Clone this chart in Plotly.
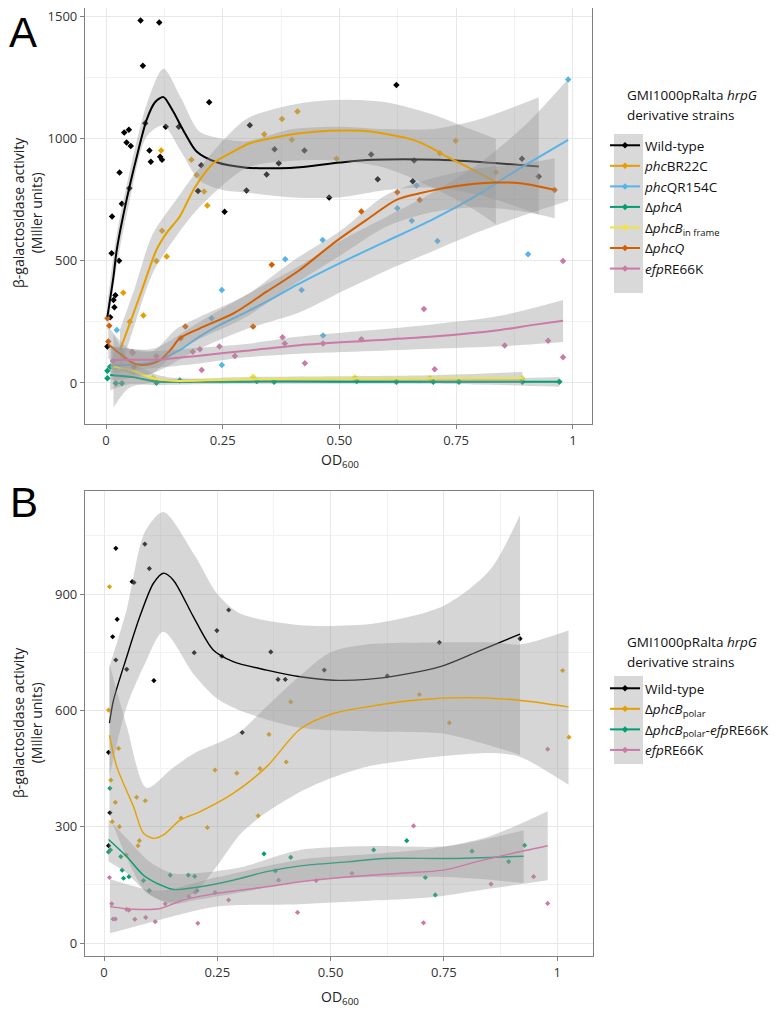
import plotly.graph_objects as go

# ---------------- Panel A data ----------------
a_wt_px = [0.074,0.114,0.079,0.221,0.128,0.156,0.308,0.049,0.039,0.084,0.044,0.053,0.093,0.096,0.116,0.12,0.029,0.05,0.034,0.013,0.254,0.301,0.197,0.204,0.344,0.37,0.361,0.622,0.425,0.568,0.66,0.582,0.657,0.478,0.891,0.927,0.012,0.028,0.02,0.018,0.009,0.003,0.016]
a_wt_py = [1485,1477,1299,1150,1050,1050,1056,1037,1026,1064,985,971,952,906,927,914,862,798,734,682,701,788,786,892,854,900,957,1221,952,936,911,835,826,760,918,846,531,501,359,310,269,149,340]
a_wt_lx = [0.003,0.016,0.023,0.044,0.066,0.087,0.105,0.123,0.14,0.17,0.194,0.237,0.301,0.373,0.415,0.501,0.572,0.715,0.837,0.927]
a_wt_ly = [272,436,545,750,928,1078,1150,1171,1125,1020,948,904,882,880,884,903,914,914,900,887]
a_wt_bx = [0.003,0.023,0.05,0.087,0.123,0.16,0.2,0.25,0.3,0.4,0.5,0.6,0.7,0.8,0.927]
a_wt_lo = [210,480,740,1010,1055,950,830,790,780,760,760,790,800,770,690]
a_wt_hi = [330,610,860,1140,1287,1170,1030,1000,990,1040,1050,1040,1040,1080,1170]

a_bR_px = [0.118,0.183,0.21,0.217,0.12,0.339,0.377,0.41,0.398,0.194,0.494,0.715,0.749,0.835,0.108,0.037,0.08,0.051,0.13]
a_bR_py = [952,914,784,727,624,1019,1081,1112,996,852,919,941,992,863,500,370,276,251,518]
a_bR_lx = [0.03,0.05,0.075,0.108,0.13,0.158,0.19,0.23,0.27,0.308,0.373,0.415,0.48,0.55,0.6,0.658,0.7,0.73,0.772,0.833]
a_bR_ly = [135,239,370,545,615,682,800,900,945,982,1010,1023,1033,1033,1020,996,960,927,887,825]
a_bR_bx = [0.03,0.06,0.1,0.15,0.2,0.3,0.4,0.5,0.6,0.7,0.78,0.835]
a_bR_lo = [50,230,450,600,720,880,910,910,880,800,720,650]
a_bR_hi = [220,380,610,750,880,1080,1140,1160,1150,1100,1040,1000]

a_qR_px = [0.023,0.248,0.384,0.226,0.248,0.419,0.464,0.655,0.71,0.904,0.465,0.99,0.665,0.624]
a_qR_py = [217,381,507,265,74,381,586,665,582,527,194,1243,809,716]
a_qR_lx = [0.01,0.05,0.1,0.158,0.2,0.244,0.3,0.36,0.415,0.5,0.6,0.7,0.8,0.87,0.99]
a_qR_ly = [70,75,85,135,190,238,290,350,408,490,580,670,775,860,996]
a_qR_bx = [0.01,0.1,0.2,0.3,0.415,0.5,0.6,0.7,0.8,0.9,0.99]
a_qR_lo = [10,40,140,220,290,370,460,540,620,690,745]
a_qR_hi = [150,140,250,360,480,580,680,780,900,1060,1245]

a_A_px = [0.003,0.003,0.009,0.021,0.034,0.108,0.158,0.323,0.36,0.537,0.622,0.701,0.756,0.892,0.971]
a_A_py = [50,19,67,-1,-1,1,10,8,5,8,5,5,5,5,5]
a_A_lx = [0.009,0.058,0.108,0.2,0.4,0.6,0.8,0.971]
a_A_ly = [33,24,6,5,6,5,5,5]
a_A_bx = [0.009,0.05,0.1,0.2,0.4,0.6,0.8,0.971]
a_A_lo = [-30,-5,-8,-5,-3,-3,-6,-15]
a_A_hi = [95,50,20,15,15,14,16,25]

a_Bi_px = [0.016,0.315,0.533,0.694,0.892,0.058,0.101]
a_Bi_py = [67,26,22,19,19,45,22]
a_Bi_lx = [0.016,0.058,0.101,0.144,0.3,0.5,0.7,0.892]
a_Bi_ly = [67,50,19,9,15,18,19,20]
a_Bi_bx = [0.016,0.05,0.1,0.15,0.3,0.5,0.7,0.892]
a_Bi_lo = [-100,-20,0,0,5,8,5,0]
a_Bi_hi = [200,100,40,20,25,28,32,45]

a_Q_px = [0.003,0.007,0.355,0.315,0.17,0.16,0.057,0.06,0.547,0.624,0.672,0.961,0.005]
a_Q_py = [265,234,484,231,231,183,124,66,702,781,750,791,170]
a_Q_lx = [0.005,0.03,0.05,0.073,0.1,0.116,0.14,0.158,0.201,0.273,0.344,0.415,0.487,0.558,0.622,0.672,0.744,0.833,0.887,0.961]
a_Q_ly = [159,120,90,74,80,94,140,183,224,285,374,463,572,668,750,777,805,821,818,791]
a_Q_bx = [0.005,0.05,0.1,0.15,0.2,0.3,0.4,0.5,0.6,0.7,0.8,0.9,0.961]
a_Q_lo = [100,40,40,130,180,270,400,520,640,700,720,700,675]
a_Q_hi = [230,140,130,220,270,360,500,620,770,840,880,900,921]

a_E_px = [0.201,0.205,0.243,0.276,0.378,0.383,0.186,0.426,0.465,0.547,0.681,0.704,0.854,0.947,0.979,0.979,0.056,0.108,0.015]
a_E_py = [138,53,149,111,187,162,128,81,162,179,303,56,154,173,500,105,128,110,90]
a_E_lx = [0.012,0.05,0.116,0.2,0.3,0.415,0.558,0.701,0.844,0.915,0.979]
a_E_ly = [94,95,96,112,132,155,173,190,217,238,255]
a_E_bx = [0.012,0.1,0.2,0.3,0.415,0.558,0.7,0.844,0.979]
a_E_lo = [40,60,80,105,120,130,140,150,168]
a_E_hi = [150,130,145,160,190,215,240,275,340]

# ---------------- Panel B data ----------------
b_wt_px = [0.026,0.09,0.1,0.062,0.066,0.029,0.019,0.026,0.05,0.11,0.199,0.249,0.275,0.368,0.384,0.26,0.305,0.01,0.013,0.01,0.486,0.625,0.74,0.918,0.4]
b_wt_py = [1018,1029,966,932,930,835,790,730,706,677,749,806,859,751,680,740,543,492,336,251,704,689,775,785,680]
b_wt_lx = [0.012,0.021,0.05,0.079,0.109,0.131,0.153,0.197,0.241,0.285,0.359,0.433,0.506,0.58,0.653,0.742,0.823,0.918]
b_wt_ly = [567,627,738,842,928,954,936,842,756,726,704,687,678,680,691,713,751,797]
b_wt_bx = [0.012,0.05,0.09,0.131,0.2,0.25,0.3,0.433,0.6,0.75,0.85,0.918]
b_wt_lo = [430,610,720,803,690,630,600,555,545,540,510,485]
b_wt_hi = [713,860,1060,1112,1000,900,850,820,825,870,960,1104]

b_Bp_px = [0.012,0.01,0.032,0.015,0.025,0.018,0.034,0.072,0.091,0.078,0.075,0.049,0.17,0.245,0.228,0.293,0.344,0.34,0.364,0.402,0.412,0.696,0.762,1.012,1.026]
b_Bp_py = [919,601,502,420,363,313,300,376,367,264,251,227,322,446,298,438,450,328,538,467,622,641,568,703,531]
b_Bp_lx = [0.012,0.028,0.065,0.087,0.109,0.131,0.168,0.212,0.285,0.359,0.433,0.506,0.58,0.69,0.8,0.911,1.025]
b_Bp_ly = [536,455,352,283,270,279,317,339,386,455,552,592,609,627,633,627,609]
b_Bp_bx = [0.012,0.05,0.094,0.15,0.2,0.25,0.3,0.35,0.433,0.5,0.58,0.73,0.86,0.918,1.025]
b_Bp_lo = [330,220,130,105,130,200,280,330,390,425,455,480,490,480,408]
b_Bp_hi = [720,560,400,450,490,515,545,600,690,750,770,775,775,770,806]

b_BE_px = [0.013,0.01,0.014,0.037,0.04,0.043,0.055,0.087,0.1,0.146,0.186,0.2,0.205,0.353,0.412,0.378,0.595,0.668,0.709,0.731,0.812,0.893,0.928]
b_BE_py = [399,235,240,223,188,167,171,161,135,175,175,172,135,230,221,186,240,264,169,124,237,210,252]
b_BE_lx = [0.01,0.05,0.087,0.124,0.153,0.212,0.285,0.359,0.433,0.543,0.617,0.764,0.926]
b_BE_ly = [267,223,175,150,138,145,162,184,199,210,218,218,224]
b_BE_bx = [0.01,0.05,0.1,0.15,0.2,0.3,0.433,0.6,0.76,0.926]
b_BE_lo = [210,180,125,100,110,130,160,170,170,155]
b_BE_hi = [320,270,210,180,180,195,240,250,250,291]

b_E_px = [0.012,0.017,0.02,0.025,0.05,0.055,0.068,0.092,0.113,0.135,0.187,0.201,0.207,0.245,0.275,0.385,0.427,0.468,0.547,0.683,0.705,0.854,0.948,0.979,0.979]
b_E_py = [169,101,62,62,87,85,61,66,55,101,120,131,51,130,111,162,79,161,180,302,52,152,171,500,102]
b_E_lx = [0.013,0.065,0.124,0.175,0.249,0.359,0.433,0.543,0.653,0.749,0.823,0.896,0.979]
b_E_ly = [94,87,89,111,128,145,158,171,180,188,210,230,251]
b_E_bx = [0.013,0.12,0.25,0.433,0.6,0.73,0.85,0.979]
b_E_lo = [25,59,94,100,110,119,140,162]
b_E_hi = [165,135,170,215,230,245,275,340]

# ---------------- labels / ticks ----------------
x_tickvals = [0, 0.25, 0.5, 0.75, 1]
x_ticktext = ["0", "0.25", "0.50", "0.75", "1"]
a_yticks = [0, 500, 1000, 1500]
b_yticks = [0, 300, 600, 900]
legend_title = ["GMI1000pRalta <i>hrpG</i>", "derivative strains"]

series_a = [
    ("Wild-type", "#000000", a_wt_px, a_wt_py, a_wt_lx, a_wt_ly, a_wt_bx, a_wt_lo, a_wt_hi),
    ("<i>phc</i>BR22C", "#E69F00", a_bR_px, a_bR_py, a_bR_lx, a_bR_ly, a_bR_bx, a_bR_lo, a_bR_hi),
    ("<i>phc</i>QR154C", "#56B4E9", a_qR_px, a_qR_py, a_qR_lx, a_qR_ly, a_qR_bx, a_qR_lo, a_qR_hi),
    ("Δ<i>phcA</i>", "#009E73", a_A_px, a_A_py, a_A_lx, a_A_ly, a_A_bx, a_A_lo, a_A_hi),
    ("Δ<i>phcB</i><sub>in frame</sub>", "#F0E442", a_Bi_px, a_Bi_py, a_Bi_lx, a_Bi_ly, a_Bi_bx, a_Bi_lo, a_Bi_hi),
    ("Δ<i>phcQ</i>", "#D55E00", a_Q_px, a_Q_py, a_Q_lx, a_Q_ly, a_Q_bx, a_Q_lo, a_Q_hi),
    ("<i>efp</i>RE66K", "#CC79A7", a_E_px, a_E_py, a_E_lx, a_E_ly, a_E_bx, a_E_lo, a_E_hi),
]
series_b = [
    ("Wild-type", "#000000", b_wt_px, b_wt_py, b_wt_lx, b_wt_ly, b_wt_bx, b_wt_lo, b_wt_hi),
    ("Δ<i>phcB</i><sub>polar</sub>", "#E69F00", b_Bp_px, b_Bp_py, b_Bp_lx, b_Bp_ly, b_Bp_bx, b_Bp_lo, b_Bp_hi),
    ("Δ<i>phcB</i><sub>polar</sub>-<i>efp</i>RE66K", "#009E73", b_BE_px, b_BE_py, b_BE_lx, b_BE_ly, b_BE_bx, b_BE_lo, b_BE_hi),
    ("<i>efp</i>RE66K", "#CC79A7", b_E_px, b_E_py, b_E_lx, b_E_ly, b_E_bx, b_E_lo, b_E_hi),
]

fig = go.Figure()
BAND = "rgba(153,153,153,0.4)"

def add_panel(series, xa, ya, leg, lw, ms, tag):
    for name, col, px, py, lx, ly, bx, lo, hi in series:
        fig.add_trace(go.Scatter(x=px, y=py, mode="markers", xaxis=xa, yaxis=ya,
                                 marker=dict(symbol="diamond", size=ms, color=col),
                                 showlegend=False, hoverinfo="skip"))
    for name, col, px, py, lx, ly, bx, lo, hi in series:
        fig.add_trace(go.Scatter(x=bx, y=lo, xaxis=xa, yaxis=ya, mode="lines",
                                 line=dict(width=0, shape="spline", smoothing=0.8),
                                 showlegend=False, hoverinfo="skip"))
        fig.add_trace(go.Scatter(x=bx, y=hi, xaxis=xa, yaxis=ya, mode="lines",
                                 fill="tonexty", fillcolor=BAND,
                                 line=dict(width=0, shape="spline", smoothing=0.8),
                                 showlegend=False, hoverinfo="skip"))
        fig.add_trace(go.Scatter(x=lx, y=ly, mode="lines", xaxis=xa, yaxis=ya,
                                 line=dict(color=col, width=lw, shape="spline", smoothing=0.8),
                                 showlegend=False, hoverinfo="skip"))
    for i, (name, col, px, py, lx, ly, bx, lo, hi) in enumerate(series):
        fig.add_trace(go.Scatter(x=[None], y=[None], mode="lines+markers", name=name,
                                 xaxis=xa, yaxis=ya, legend=leg, legendgroup=f"{tag}{i}",
                                 line=dict(color=col, width=2),
                                 marker=dict(symbol="diamond", size=5, color=col)))

add_panel(series_a, "x", "y", "legend", 2.0, 5, "a")
add_panel(series_b, "x2", "y2", "legend2", 1.4, 4, "b")

# page has an 8px body margin: the figure sits at (8, 8) of the window
OFF = 8
W, H = 780 - OFF, 1012 - OFF
def px2x(p): return (p - OFF) / W
def px2y(p): return 1 - (p - OFF) / H

TICKFONT = dict(family="Open Sans", size=13, color="#333333")
GRID = "#e8e8e8"
common_x = dict(tickvals=x_tickvals, ticktext=x_ticktext, showline=True, mirror=True,
                linecolor="#808080", linewidth=1.2, ticks="outside", ticklen=4, tickcolor="#808080",
                gridcolor=GRID, gridwidth=1, zeroline=False, tickfont=TICKFONT, automargin=False,
                minor=dict(tickvals=[0.125, 0.375, 0.625, 0.875], showgrid=True, gridcolor="#f2f2f2", ticks=""))

LEGFONT = dict(family="Open Sans", size=13.5, color="#111111")
fig.update_layout(
    width=W, height=H, margin=dict(l=0, r=0, t=0, b=0, autoexpand=False),
    plot_bgcolor="white", paper_bgcolor="white",
    xaxis=dict(domain=[px2x(85), px2x(592)], range=[-0.045, 1.041], anchor="y", **common_x),
    yaxis=dict(domain=[px2y(424), 1.0], range=[-168, 1536], anchor="x", automargin=False,
               tickvals=a_yticks, showline=True, mirror=True, linecolor="#808080", linewidth=1.2,
               ticks="outside", ticklen=4, tickcolor="#808080", gridcolor=GRID, zeroline=False,
               tickfont=TICKFONT, ticklabeloverflow="allow",
               minor=dict(tickvals=[250, 750, 1250], showgrid=True, gridcolor="#f2f2f2", ticks="")),
    xaxis2=dict(domain=[px2x(85), px2x(593)], range=[-0.042, 1.079], anchor="y2", **common_x),
    yaxis2=dict(domain=[px2y(956), px2y(491)], range=[-33.5, 1166], anchor="x2", automargin=False,
                tickvals=b_yticks, showline=True, mirror=True, linecolor="#808080", linewidth=1.2,
                ticks="outside", ticklen=4, tickcolor="#808080", gridcolor=GRID, zeroline=False,
                tickfont=TICKFONT,
                minor=dict(tickvals=[150, 450, 750, 1050], showgrid=True, gridcolor="#f2f2f2", ticks="")),
    legend=dict(x=px2x(605), y=px2y(130), xanchor="left", yanchor="top", traceorder="normal",
                bgcolor="rgba(0,0,0,0)", tracegroupgap=1.3, itemwidth=30, font=LEGFONT),
    legend2=dict(x=px2x(605), y=px2y(673), xanchor="left", yanchor="top", traceorder="normal",
                 bgcolor="rgba(0,0,0,0)", tracegroupgap=1.2, itemwidth=30, font=LEGFONT),
)

# legend key backgrounds
fig.add_shape(type="rect", xref="paper", yref="paper", x0=px2x(614), x1=px2x(643),
              y0=px2y(293), y1=px2y(134), fillcolor="#d9d9d9", line=dict(width=0), layer="below")
fig.add_shape(type="rect", xref="paper", yref="paper", x0=px2x(614), x1=px2x(643),
              y0=px2y(764), y1=px2y(676), fillcolor="#d9d9d9", line=dict(width=0), layer="below")

ann_font = dict(family="Open Sans", size=14, color="#222222")
for ty0 in (95, 642):
    for k, line in enumerate(legend_title):
        fig.add_annotation(text=line, x=px2x(625), y=px2y(ty0 + 20 * k), xref="paper", yref="paper",
                           xanchor="left", yanchor="middle", showarrow=False, font=LEGFONT)

fig.add_annotation(text="A", x=0, y=1.0, xref="paper", yref="paper", xanchor="left", borderpad=0,
                   yanchor="top", showarrow=False, font=dict(family="Liberation Sans", size=42, color="black"))
fig.add_annotation(text="B", x=0, y=px2y(477), xref="paper", yref="paper", xanchor="left",
                   yanchor="top", showarrow=False, font=dict(family="Liberation Sans", size=42, color="black"))
fig.add_annotation(text="β-galactosidase activity<br>(Miller units)", x=px2x(27), y=px2y(213),
                   xref="paper", yref="paper", xanchor="center", yanchor="middle",
                   textangle=-90, showarrow=False, font=ann_font)
fig.add_annotation(text="β-galactosidase activity<br>(Miller units)", x=px2x(27), y=px2y(723),
                   xref="paper", yref="paper", xanchor="center", yanchor="middle",
                   textangle=-90, showarrow=False, font=ann_font)
fig.add_annotation(text="OD<sub>600</sub>", x=px2x(340), y=px2y(460), xref="paper", yref="paper",
                   xanchor="center", yanchor="middle", showarrow=False, font=ann_font)
fig.add_annotation(text="OD<sub>600</sub>", x=px2x(340), y=px2y(997), xref="paper", yref="paper",
                   xanchor="center", yanchor="middle", showarrow=False, font=ann_font)

fig.write_html("out.html")
